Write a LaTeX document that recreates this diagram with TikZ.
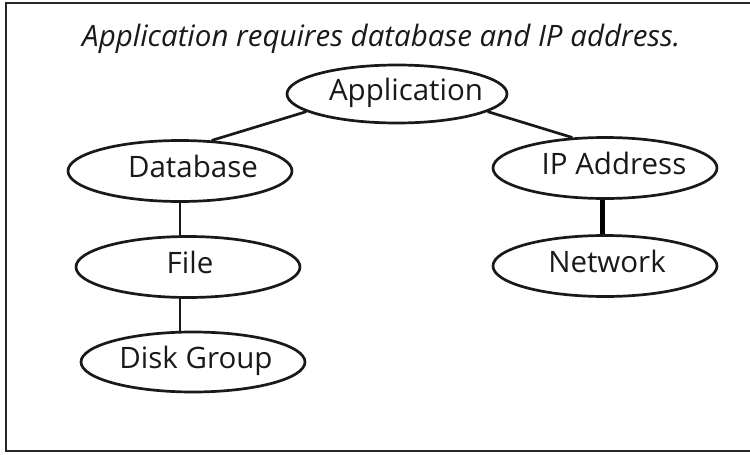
\documentclass[tikz,border=0pt]{standalone}
\usepackage{fontspec}
\setmainfont{Open Sans}
\usetikzlibrary{shapes.geometric}
\newcommand\shlbl[2]{\makebox[0pt]{\hspace*{#1}#2}}
\begin{document}
\begin{tikzpicture}[x=1pt,y=-1pt,
  res/.style={draw=black!90, line width=2.7pt, ellipse, inner sep=0pt,
    minimum width=224pt, minimum height=61pt, text height=20pt, text depth=8pt,
    font=\fontsize{29.5}{31}\selectfont, text=black!90},
  link/.style={draw=black!90, line width=2.7pt},
  thicklink/.style={draw=black, line width=5pt}]
\useasboundingbox (0,0) rectangle (750,455);
\draw[line width=2.5pt, black!85] (755,3) -- (6,3) -- (6,451) -- (755,451);
\node[anchor=base west, font=\itshape\fontsize{29.5}{31}\selectfont, text=black!90, inner sep=0pt] (title) at (82,46) {Application requires database and IP address.};
\node[res, minimum width=220pt, minimum height=58pt] (app) at (397,94) {\shlbl{18pt}{Application}};
\node[res] (db) at (180,171) {\shlbl{26pt}{Database}};
\node[res] (ip) at (605,168) {\shlbl{18pt}{IP Address}};
\node[res] (file) at (188,267) {\shlbl{4pt}{File}};
\node[res, minimum height=60pt] (dg) at (193,362) {\shlbl{6pt}{Disk Group}};
\node[res] (net) at (605,266) {\shlbl{4pt}{Network}};
\draw[link] (app.191) -- (db.44);
\draw[link] (app.349) -- (ip.137);
\draw[link] (db.south -| 180,0) -- (file.north -| 180,0);
\draw[link] (file.south -| 180,0) -- (dg.north -| 180,0);
\draw[thicklink] (ip.south -| 602,0) -- (net.north -| 602,0);
\end{tikzpicture}
\end{document}
